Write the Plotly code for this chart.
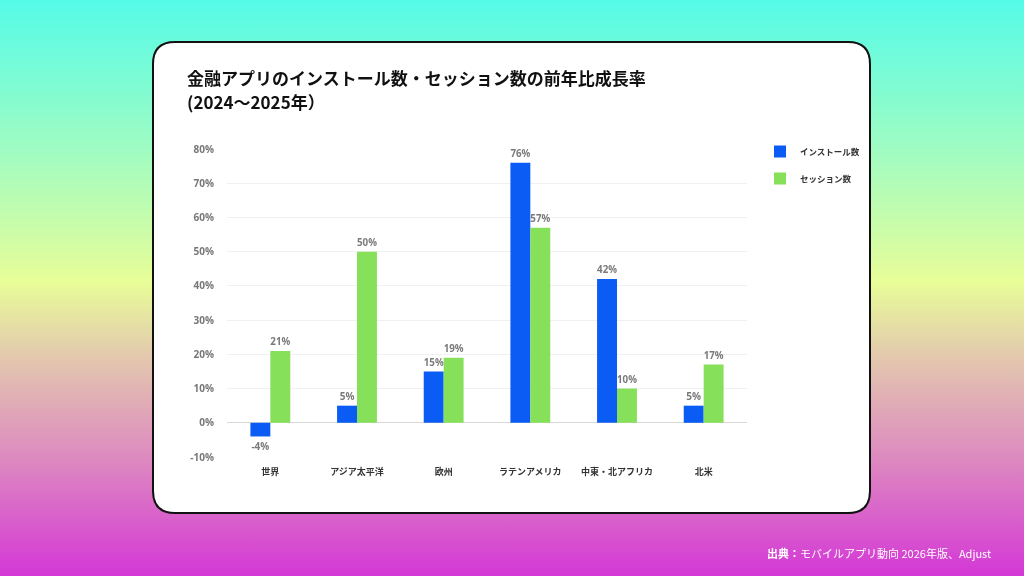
import base64
import plotly.graph_objects as go

# データ（前年比成長率, %）
regions = ["世界", "アジア太平洋", "欧州", "ラテンアメリカ", "中東・北アフリカ", "北米"]
installs = [-4, 5, 15, 76, 42, 5]
sessions = [21, 50, 19, 57, 10, 17]
y_ticks = [-10, 0, 10, 20, 30, 40, 50, 60, 70, 80]

W, H = 1024, 576
JP = "Noto Sans CJK JP"
NUM = "Open Sans, Noto Sans CJK JP"

# 背景グラデーション (SVG data URI)
bg_svg = f"""<svg xmlns="http://www.w3.org/2000/svg" width="{W}" height="{H}" preserveAspectRatio="none">
<defs><linearGradient id="g" x1="0" y1="0" x2="0" y2="1">
<stop offset="0" stop-color="#55fbe8"/>
<stop offset="0.25" stop-color="#9cfcc4"/>
<stop offset="0.49" stop-color="#e8fd98"/>
<stop offset="0.62" stop-color="#e3c8ae"/>
<stop offset="0.80" stop-color="#dd88c0"/>
<stop offset="1" stop-color="#d438d6"/>
</linearGradient></defs>
<rect width="{W}" height="{H}" fill="url(#g)"/></svg>"""
bg_uri = "data:image/svg+xml;base64," + base64.b64encode(bg_svg.encode()).decode()


def px_x(v):
    return v / W


def px_y(v):
    return 1 - v / H


def rounded_rect(x0, y0, x1, y1, r):
    # paper座標での角丸四角形パス
    X0, X1 = px_x(x0), px_x(x1)
    Y0, Y1 = px_y(y0), px_y(y1)
    rx, ry = r / W, r / H
    return (f"M {X0 + rx},{Y0} L {X1 - rx},{Y0} Q {X1},{Y0} {X1},{Y0 - ry} "
            f"L {X1},{Y1 + ry} Q {X1},{Y1} {X1 - rx},{Y1} L {X0 + rx},{Y1} "
            f"Q {X0},{Y1} {X0},{Y1 + ry} L {X0},{Y0 - ry} Q {X0},{Y0} {X0 + rx},{Y0} Z")


fig = go.Figure()

fig.add_trace(go.Bar(
    x=regions, y=installs, name="インストール数",
    marker=dict(color="#0a5cf5", line=dict(width=0)),
    text=[f"{v}%" for v in installs], textposition="outside",
    textfont=dict(family=NUM, size=10, color="#7a7a7a", weight="bold"),
    legendgroup="a", cliponaxis=False,
))
fig.add_trace(go.Bar(
    x=regions, y=sessions, name="セッション数",
    marker=dict(color="#86e05a", line=dict(width=0)),
    text=[f"{v}%" for v in sessions], textposition="outside",
    textfont=dict(family=NUM, size=10, color="#7a7a7a", weight="bold"),
    legendgroup="b", cliponaxis=False,
))

fig.update_layout(
    width=W, height=H,
    margin=dict(l=0, r=0, t=0, b=0, pad=0, autoexpand=False),
    paper_bgcolor="rgba(0,0,0,0)",
    plot_bgcolor="rgba(0,0,0,0)",
    barmode="group", bargap=0.54, bargroupgap=0,
    font=dict(family=JP, color="#333"),
    images=[dict(source=bg_uri, xref="paper", yref="paper", x=0, y=1,
                 sizex=1, sizey=1, sizing="stretch", layer="below",
                 xanchor="left", yanchor="top")],
    shapes=[dict(type="path", xref="paper", yref="paper", layer="below",
                 path=rounded_rect(153, 42, 870, 513, 22),
                 fillcolor="white", line=dict(color="#111", width=2))],
    xaxis=dict(
        domain=[px_x(227), px_x(747)], automargin=False,
        showgrid=False, showline=False, zeroline=False,
        tickfont=dict(family=JP, size=9, color="#333", weight="bold"),
        ticklabelstandoff=8,
    ),
    yaxis=dict(
        domain=[px_y(457), px_y(149)], automargin=False,
        range=[-10, 80],
        tickvals=y_ticks, ticktext=[f"{v}%" for v in y_ticks],
        showgrid=True, gridcolor="#f0f0f0", gridwidth=1,
        zeroline=True, zerolinecolor="#d8d8d8", zerolinewidth=1,
        showline=False,
        tickfont=dict(family=NUM, size=10, color="#777", weight="bold"),
        ticklabelstandoff=12,
    ),
    legend=dict(
        x=px_x(760), y=px_y(137), xanchor="left", yanchor="top",
        font=dict(family=JP, size=8.5, color="#333", weight="bold"),
        bgcolor="rgba(0,0,0,0)", tracegroupgap=8, itemwidth=30,
    ),
    annotations=[
        dict(text="<b>金融アプリのインストール数・セッション数の前年比成長率</b>",
             xref="paper", yref="paper", x=px_x(185), y=px_y(78),
             xanchor="left", yanchor="middle", align="left", showarrow=False,
             font=dict(family=JP, size=17, color="#111")),
        dict(text="<b>(2024～2025年）</b>",
             xref="paper", yref="paper", x=px_x(185), y=px_y(101),
             xanchor="left", yanchor="middle", align="left", showarrow=False,
             font=dict(family=JP, size=17, color="#111")),
        dict(text="<b>出典：</b>モバイルアプリ動向 2026年版、Adjust",
             xref="paper", yref="paper", x=px_x(993), y=px_y(553),
             xanchor="right", yanchor="middle", showarrow=False,
             font=dict(family=JP, size=11, color="white")),
    ],
)

# ページ余白を消して図を左上に固定
fix_js = (
    "document.documentElement.style.margin='0';"
    "document.body.style.margin='0';document.body.style.overflow='hidden';"
    "var d=document.getElementById('{plot_id}');"
    "d.style.position='fixed';d.style.top='0';d.style.left='0';"
)

fig.write_html("out.html", config={"displayModeBar": False}, post_script=fix_js)
